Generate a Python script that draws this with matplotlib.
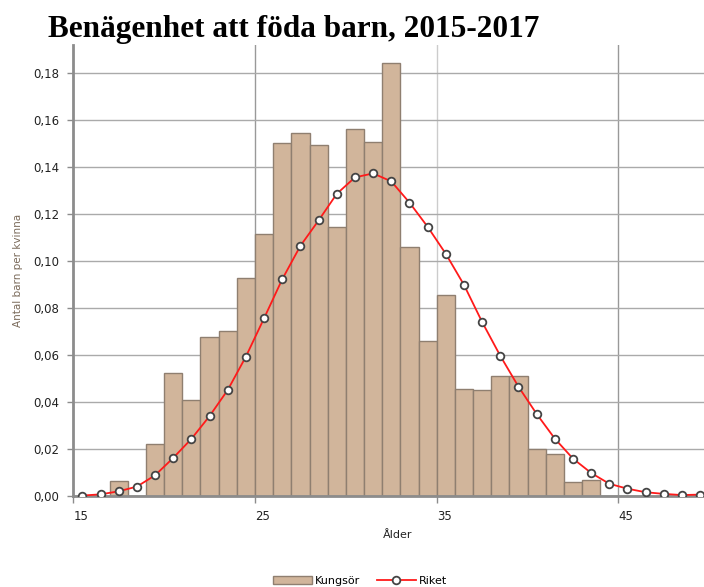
import numpy as np
import matplotlib.pyplot as plt

# data
ages = np.arange(15, 50)
kungsor = [0.0, 0.0, 0.0065, 0.0, 0.022, 0.0525, 0.0409, 0.0678, 0.0702, 0.0926,
           0.1116, 0.1502, 0.1542, 0.1491, 0.1146, 0.1560, 0.1505, 0.1841, 0.1058, 0.0660,
           0.0855, 0.0454, 0.0451, 0.0510, 0.0510, 0.0199, 0.0180, 0.0060, 0.0067, 0.0,
           0.0, 0.0, 0.0, 0.0, 0.0]
riket = [0.0002, 0.0007, 0.0020, 0.0040, 0.0088, 0.0162, 0.0243, 0.0340, 0.0451, 0.0593,
         0.0756, 0.0922, 0.1064, 0.1172, 0.1285, 0.1355, 0.1372, 0.1338, 0.1248, 0.1145,
         0.1030, 0.0898, 0.0740, 0.0596, 0.0465, 0.0349, 0.0244, 0.0159, 0.0098, 0.0052,
         0.0031, 0.0016, 0.0009, 0.0004, 0.0006]
yticks = [0, 0.02, 0.04, 0.06, 0.08, 0.10, 0.12, 0.14, 0.16, 0.18]
xticks = [15, 25, 35, 45]

fig = plt.figure(figsize=(7.04, 5.87), dpi=100)
ax = fig.add_axes([73.3 / 704, 91 / 587, (704 - 73.3) / 704, 451 / 587])

bars = ax.bar(ages, kungsor, width=1.0, align='edge', color='#d1b59b',
              edgecolor='#8f7f70', linewidth=1.0, label='Kungsör', zorder=2)
line, = ax.plot(ages + 0.5, riket, color='#ff1a1a', linewidth=1.3, marker='o',
                markersize=5.5, markerfacecolor='white', markeredgecolor='#444444',
                markeredgewidth=1.3, label='Riket', zorder=3)

ax.set_xlim(15, 15 + (704 - 73.3) / 18.17)
ax.set_ylim(0, 0.1918)
ax.set_yticks(yticks)
ax.set_yticklabels([f'{v:.2f}'.replace('.', ',') for v in yticks], fontsize=8.5, color='#222222')
ax.set_xticks(xticks)
ax.set_xticklabels([str(v) for v in xticks], fontsize=8.5, color='#222222')
for lab in ax.get_xticklabels():
    lab.set_ha('left')

ax.grid(axis='y', color='#aaaaaa', linewidth=1.0, zorder=0)
for x, c in zip([25, 35, 45], ['#999999', '#cccccc', '#999999']):
    ax.axvline(x, color=c, linewidth=1.0, zorder=0)
ax.set_axisbelow(True)

for s in ['top', 'right']:
    ax.spines[s].set_visible(False)
for s in ['left', 'bottom']:
    ax.spines[s].set_color('#8c8c8c')
    ax.spines[s].set_linewidth(2)
ax.tick_params(axis='y', length=4, color='#8c8c8c', width=1, pad=6)
ax.tick_params(axis='x', length=5, color='#8c8c8c', width=1, pad=5)

fig.text(18 / 704, 1 - 270 / 587, 'Antal barn per kvinna', rotation=90,
         fontsize=7.5, color='#7a6a5a', ha='center', va='center')
fig.text(398 / 704, 1 - 535 / 587, 'Ålder', fontsize=8, color='#222222',
         ha='center', va='center')
fig.text(48 / 704, 1 - 30 / 587, 'Benägenhet att föda barn, 2015-2017',
         fontsize=22.5, fontweight='bold', family='Liberation Serif',
         ha='left', va='center')

fig.legend([bars, line], ['Kungsör', 'Riket'], loc='center',
           bbox_to_anchor=(360 / 704, 6 / 587), ncol=2,
           frameon=False, fontsize=8, handlelength=3.5, columnspacing=1.5,
           handletextpad=0.3)

fig.savefig('out.png', dpi=100)
